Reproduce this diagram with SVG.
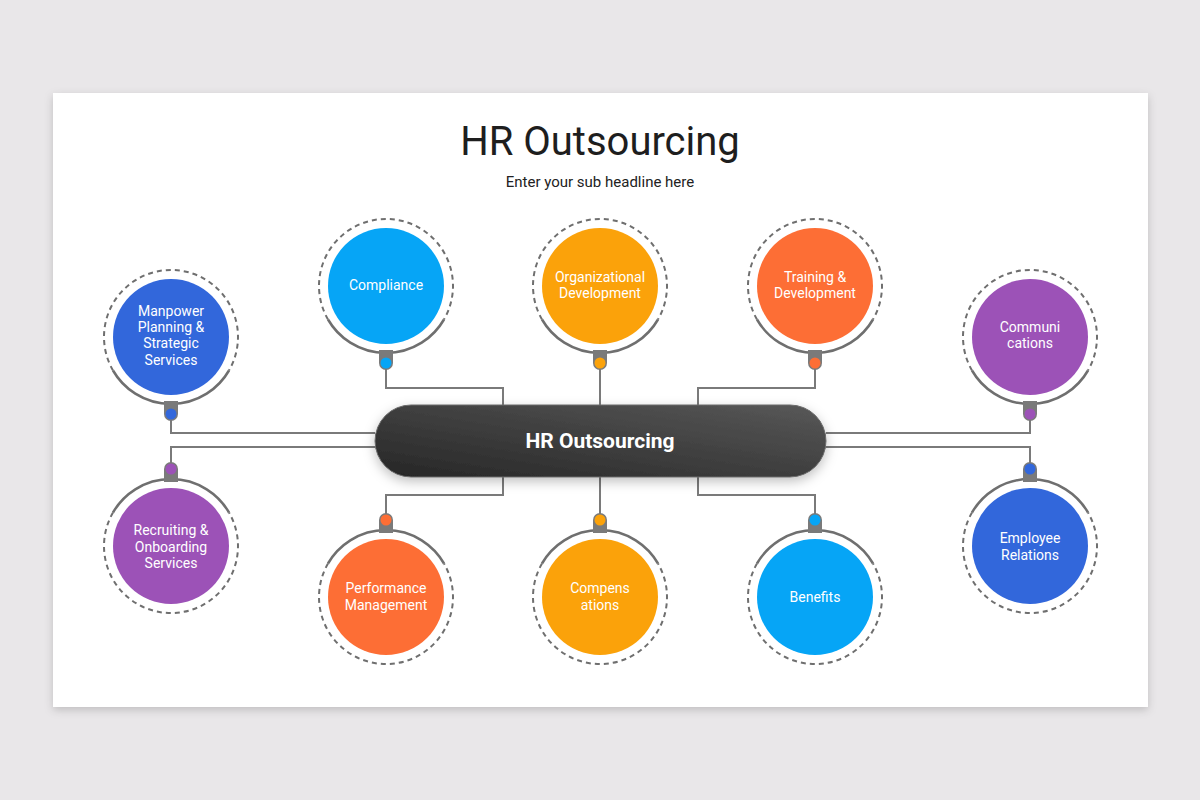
<svg xmlns="http://www.w3.org/2000/svg" width="1200" height="800" viewBox="0 0 1200 800">
<defs>
<style>
.dash{fill:none;stroke:#6f6f6f;stroke-width:2;stroke-dasharray:5 4}
.solid{fill:none;stroke:#6f6f6f;stroke-width:2.5}
.tab{fill:#7a7a7a}
.ln{fill:none;stroke:#7a7a7a;stroke-width:2}
.lbl{font-family:Roboto,"Liberation Sans",sans-serif;font-size:14px;fill:#ffffff;text-anchor:middle}
.blue{fill:#3267db}
.sky{fill:#06a5f6}
.amber{fill:#fba20a}
.orange{fill:#fd6e35}
.purple{fill:#9c52b7}
</style>
<filter id="cardShadow" x="-5%" y="-5%" width="110%" height="115%">
<feDropShadow dx="0" dy="3" stdDeviation="4" flood-color="#000" flood-opacity="0.18"/>
</filter>
<filter id="pillShadow" x="-10%" y="-30%" width="120%" height="170%">
<feDropShadow dx="0" dy="4" stdDeviation="6" flood-color="#000" flood-opacity="0.25"/>
</filter>
<linearGradient id="pillGrad" x1="0" y1="1" x2="1" y2="0">
<stop offset="0" stop-color="#262626"/>
<stop offset="1" stop-color="#585858"/>
</linearGradient>
</defs>

<rect width="1200" height="800" fill="#e9e7e9"/>
<rect x="53" y="93" width="1095" height="614" fill="#ffffff" filter="url(#cardShadow)"/>

<g id="title">
<text x="600" y="155" font-family="Roboto,'Liberation Sans',sans-serif" font-size="40" fill="#1e1e1e" text-anchor="middle">HR Outsourcing</text>
<text x="600" y="187" font-family="Roboto,'Liberation Sans',sans-serif" font-size="15" fill="#222" text-anchor="middle">Enter your sub headline here</text>
</g>

<g id="connectors">
<path class="ln" d="M171,414 V433 H375"/>
<path class="ln" d="M171,469 V447 H375"/>
<path class="ln" d="M386,363 V388 H503 V405"/>
<path class="ln" d="M600,363 V405"/>
<path class="ln" d="M815,363 V388 H698 V405"/>
<path class="ln" d="M386,519 V495 H503 V477"/>
<path class="ln" d="M600,519 V477"/>
<path class="ln" d="M815,519 V495 H698 V477"/>
<path class="ln" d="M1030,414 V433 H826"/>
<path class="ln" d="M1030,469 V447 H826"/>
</g>

<g id="center">
<rect x="375" y="405" width="451" height="72" rx="36" fill="url(#pillGrad)" stroke="#6a6a6a" stroke-width="1" filter="url(#pillShadow)"/>
<text x="600" y="448" font-family="Roboto,'Liberation Sans',sans-serif" font-size="21" font-weight="bold" fill="#fff" text-anchor="middle">HR Outsourcing</text>
</g>

<!-- top-type nodes (tab below) -->
<g id="manpower" transform="translate(171,337)">
<path class="dash" d="M-58,33.5 A67,67 0 1 1 58,33.5"/>
<path class="solid" d="M58,33.5 A67,67 0 0 1 -58,33.5"/>
<circle r="58" class="blue"/>
<path class="tab" d="M-7,64 H7 V77 A7,7 0 0 1 -7,77 Z"/>
<circle cy="77" r="5.5" class="blue"/>
<text class="lbl" y="-21">Manpower</text>
<text class="lbl" y="-5">Planning &amp;</text>
<text class="lbl" y="11">Strategic</text>
<text class="lbl" y="28">Services</text>
</g>

<g id="compliance" transform="translate(386,286)">
<path class="dash" d="M-58,33.5 A67,67 0 1 1 58,33.5"/>
<path class="solid" d="M58,33.5 A67,67 0 0 1 -58,33.5"/>
<circle r="58" class="sky"/>
<path class="tab" d="M-7,64 H7 V77 A7,7 0 0 1 -7,77 Z"/>
<circle cy="77" r="5.5" class="sky"/>
<text class="lbl" y="4">Compliance</text>
</g>

<g id="organizational" transform="translate(600,286)">
<path class="dash" d="M-58,33.5 A67,67 0 1 1 58,33.5"/>
<path class="solid" d="M58,33.5 A67,67 0 0 1 -58,33.5"/>
<circle r="58" class="amber"/>
<path class="tab" d="M-7,64 H7 V77 A7,7 0 0 1 -7,77 Z"/>
<circle cy="77" r="5.5" class="amber"/>
<text class="lbl" y="-4">Organizational</text>
<text class="lbl" y="12">Development</text>
</g>

<g id="training" transform="translate(815,286)">
<path class="dash" d="M-58,33.5 A67,67 0 1 1 58,33.5"/>
<path class="solid" d="M58,33.5 A67,67 0 0 1 -58,33.5"/>
<circle r="58" class="orange"/>
<path class="tab" d="M-7,64 H7 V77 A7,7 0 0 1 -7,77 Z"/>
<circle cy="77" r="5.5" class="orange"/>
<text class="lbl" y="-4">Training &amp;</text>
<text class="lbl" y="12">Development</text>
</g>

<g id="communications" transform="translate(1030,337)">
<path class="dash" d="M-58,33.5 A67,67 0 1 1 58,33.5"/>
<path class="solid" d="M58,33.5 A67,67 0 0 1 -58,33.5"/>
<circle r="58" class="purple"/>
<path class="tab" d="M-7,64 H7 V77 A7,7 0 0 1 -7,77 Z"/>
<circle cy="77" r="5.5" class="purple"/>
<text class="lbl" y="-5">Communi</text>
<text class="lbl" y="11">cations</text>
</g>

<!-- bottom-type nodes (tab above) -->
<g id="recruiting" transform="translate(171,546)">
<path class="dash" d="M-58,-33.5 A67,67 0 1 0 58,-33.5"/>
<path class="solid" d="M58,-33.5 A67,67 0 0 0 -58,-33.5"/>
<circle r="58" class="purple"/>
<path class="tab" d="M-7,-64 H7 V-77 A7,7 0 0 0 -7,-77 Z"/>
<circle cy="-77" r="5.5" class="purple"/>
<text class="lbl" y="-11">Recruiting &amp;</text>
<text class="lbl" y="6">Onboarding</text>
<text class="lbl" y="22">Services</text>
</g>

<g id="performance" transform="translate(386,597)">
<path class="dash" d="M-58,-33.5 A67,67 0 1 0 58,-33.5"/>
<path class="solid" d="M58,-33.5 A67,67 0 0 0 -58,-33.5"/>
<circle r="58" class="orange"/>
<path class="tab" d="M-7,-64 H7 V-77 A7,7 0 0 0 -7,-77 Z"/>
<circle cy="-77" r="5.5" class="orange"/>
<text class="lbl" y="-4">Performance</text>
<text class="lbl" y="13">Management</text>
</g>

<g id="compensations" transform="translate(600,597)">
<path class="dash" d="M-58,-33.5 A67,67 0 1 0 58,-33.5"/>
<path class="solid" d="M58,-33.5 A67,67 0 0 0 -58,-33.5"/>
<circle r="58" class="amber"/>
<path class="tab" d="M-7,-64 H7 V-77 A7,7 0 0 0 -7,-77 Z"/>
<circle cy="-77" r="5.5" class="amber"/>
<text class="lbl" y="-4">Compens</text>
<text class="lbl" y="13">ations</text>
</g>

<g id="benefits" transform="translate(815,597)">
<path class="dash" d="M-58,-33.5 A67,67 0 1 0 58,-33.5"/>
<path class="solid" d="M58,-33.5 A67,67 0 0 0 -58,-33.5"/>
<circle r="58" class="sky"/>
<path class="tab" d="M-7,-64 H7 V-77 A7,7 0 0 0 -7,-77 Z"/>
<circle cy="-77" r="5.5" class="sky"/>
<text class="lbl" y="5">Benefits</text>
</g>

<g id="employee" transform="translate(1030,546)">
<path class="dash" d="M-58,-33.5 A67,67 0 1 0 58,-33.5"/>
<path class="solid" d="M58,-33.5 A67,67 0 0 0 -58,-33.5"/>
<circle r="58" class="blue"/>
<path class="tab" d="M-7,-64 H7 V-77 A7,7 0 0 0 -7,-77 Z"/>
<circle cy="-77" r="5.5" class="blue"/>
<text class="lbl" y="-3">Employee</text>
<text class="lbl" y="14">Relations</text>
</g>
</svg>
